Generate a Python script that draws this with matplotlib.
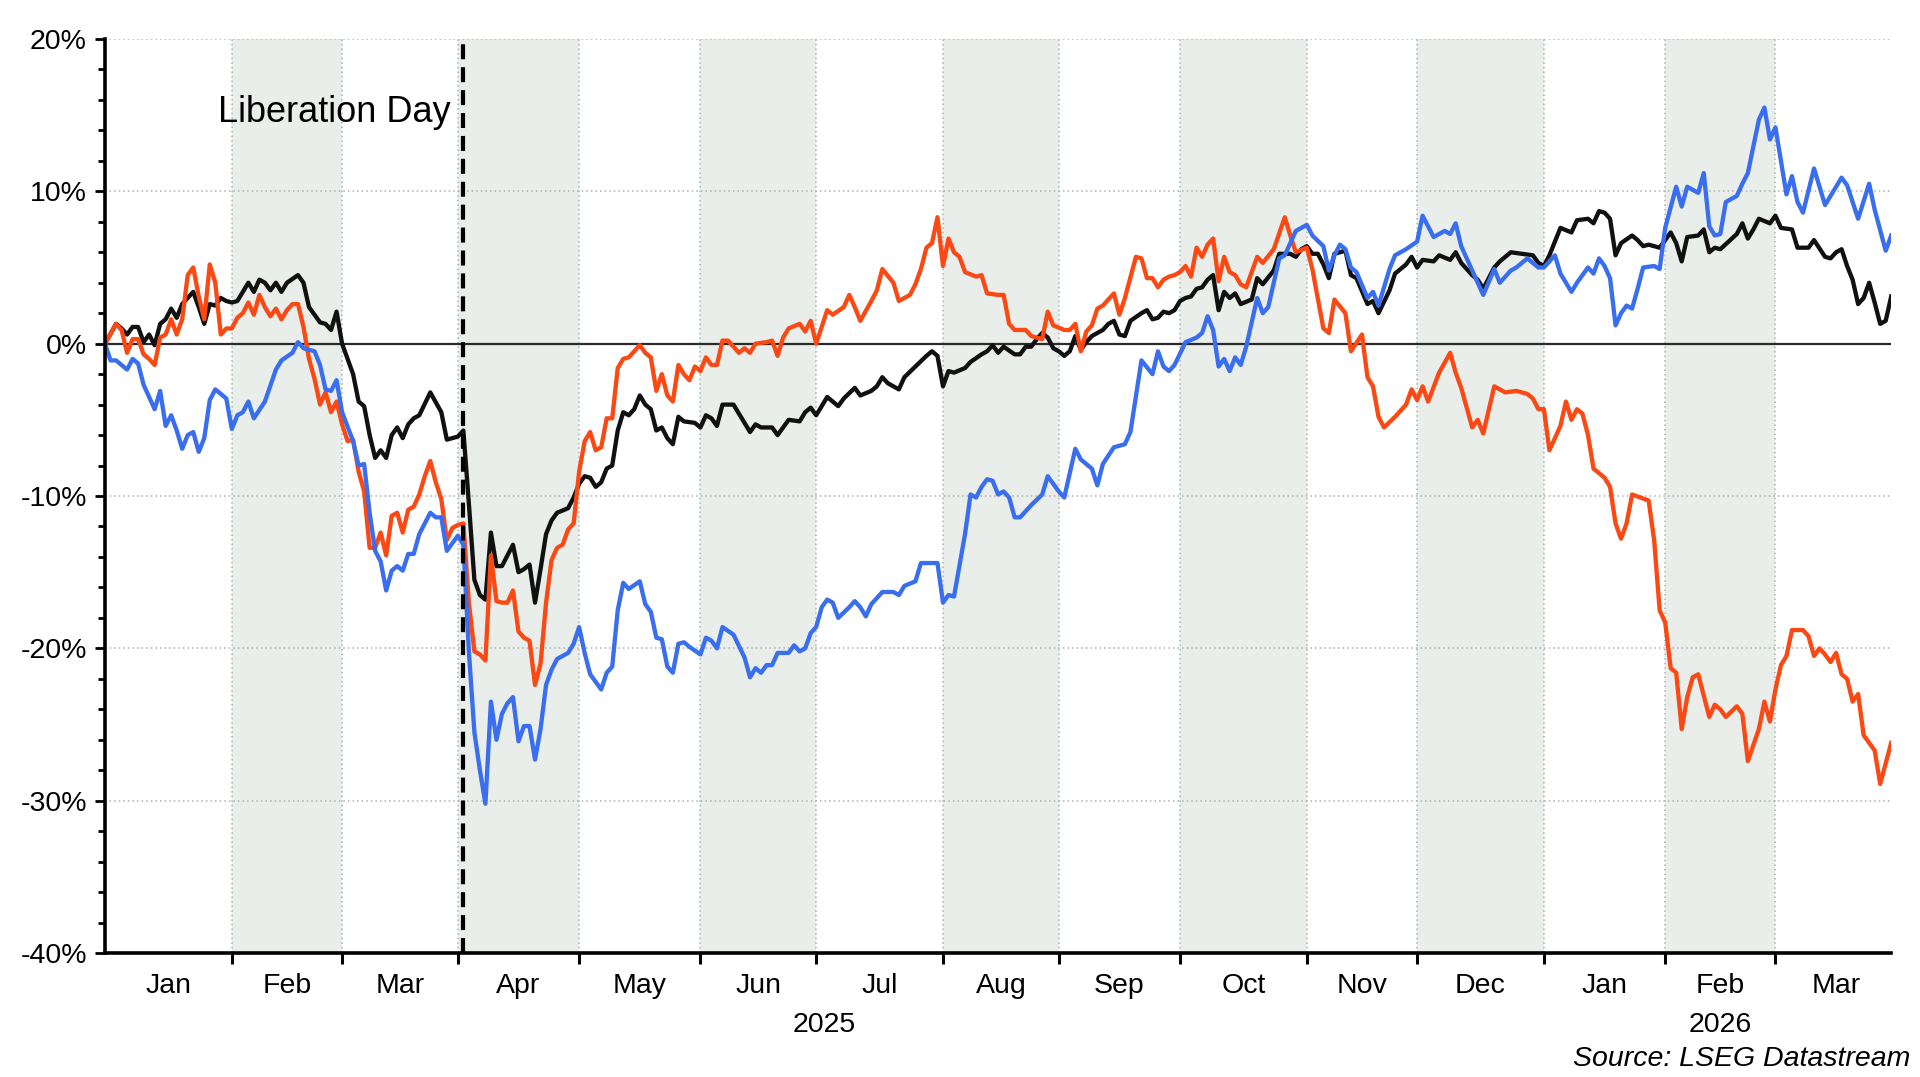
"""
Liberation Day chart: cumulative % change of three series, Jan 2025 - Mar 2026.
Weekday-based time axis (Datastream style), alternate months shaded.
"""

import numpy as np
import matplotlib
matplotlib.use("Agg")
import matplotlib.pyplot as plt
from matplotlib.ticker import FixedLocator, FuncFormatter, MultipleLocator

plt.rcParams["font.family"] = ["Liberation Sans", "DejaVu Sans"]

START = "2025-01-01"
AXIS_END = "2026-03-31"
LIB_DAY = "2025-04-02"
LIB_LABEL = "Liberation Day"
SOURCE = "Source: LSEG Datastream"

MONTH_STARTS = ["2025-01-01", "2025-02-01", "2025-03-01", "2025-04-01",
                "2025-05-01", "2025-06-01", "2025-07-01", "2025-08-01",
                "2025-09-01", "2025-10-01", "2025-11-01", "2025-12-01",
                "2026-01-01", "2026-02-01", "2026-03-01", "2026-04-01"]
MONTH_LABELS = ["Jan", "Feb", "Mar", "Apr", "May", "Jun", "Jul", "Aug",
                "Sep", "Oct", "Nov", "Dec", "Jan", "Feb", "Mar"]
YEAR_LABELS = ["2025", "2026"]
YEAR_SPANS = [("2025-01-01", "2026-01-01"), ("2026-01-01", "2026-04-01")]
Y_TICKS = [-40, -30, -20, -10, 0, 10, 20]

# (date, % change since start)
BLACK = [
    ("2025-01-01", 0.0), ("2025-01-03", 1.3), ("2025-01-06", 1.0), ("2025-01-07", 0.6),
    ("2025-01-08", 1.1), ("2025-01-09", 1.1), ("2025-01-10", 0.1), ("2025-01-13", 0.6),
    ("2025-01-14", -0.1), ("2025-01-15", 1.3), ("2025-01-16", 1.6), ("2025-01-17", 2.3),
    ("2025-01-20", 1.7), ("2025-01-21", 2.6), ("2025-01-23", 3.4), ("2025-01-24", 2.4),
    ("2025-01-27", 1.3), ("2025-01-28", 2.6), ("2025-01-29", 2.5), ("2025-01-30", 3.0),
    ("2025-01-31", 2.8), ("2025-02-03", 2.7), ("2025-02-04", 2.8), ("2025-02-06", 4.0),
    ("2025-02-07", 3.4), ("2025-02-10", 4.2), ("2025-02-11", 4.0), ("2025-02-12", 3.5),
    ("2025-02-13", 4.0), ("2025-02-14", 3.4), ("2025-02-17", 4.0), ("2025-02-19", 4.5),
    ("2025-02-20", 4.0), ("2025-02-21", 2.4), ("2025-02-25", 1.4), ("2025-02-26", 1.3),
    ("2025-02-27", 0.9), ("2025-02-28", 2.1), ("2025-03-03", 0.0), ("2025-03-05", -2.0),
    ("2025-03-06", -3.8), ("2025-03-07", -4.1), ("2025-03-10", -6.0), ("2025-03-11", -7.5),
    ("2025-03-12", -7.0), ("2025-03-13", -7.5), ("2025-03-14", -6.0), ("2025-03-17", -5.5),
    ("2025-03-18", -6.2), ("2025-03-19", -5.3), ("2025-03-20", -4.9), ("2025-03-21", -4.7),
    ("2025-03-25", -3.2), ("2025-03-27", -4.5), ("2025-03-28", -6.3), ("2025-04-01", -6.1),
    ("2025-04-02", -5.7), ("2025-04-03", -10.5), ("2025-04-04", -15.5), ("2025-04-07", -16.5),
    ("2025-04-08", -16.8), ("2025-04-09", -12.4), ("2025-04-10", -14.6), ("2025-04-11", -14.6),
    ("2025-04-14", -13.9), ("2025-04-15", -13.2), ("2025-04-16", -15.0), ("2025-04-17", -14.8),
    ("2025-04-18", -14.5), ("2025-04-21", -17.0), ("2025-04-22", -14.8), ("2025-04-23", -12.5),
    ("2025-04-24", -11.6), ("2025-04-25", -11.1), ("2025-04-29", -10.8), ("2025-04-30", -10.1),
    ("2025-05-01", -9.2), ("2025-05-02", -8.7), ("2025-05-05", -8.8), ("2025-05-06", -9.4),
    ("2025-05-07", -9.1), ("2025-05-08", -8.2), ("2025-05-09", -8.0), ("2025-05-12", -5.7),
    ("2025-05-13", -4.5), ("2025-05-14", -4.7), ("2025-05-15", -4.3), ("2025-05-16", -3.4),
    ("2025-05-19", -4.0), ("2025-05-20", -4.3), ("2025-05-21", -5.7), ("2025-05-22", -5.5),
    ("2025-05-23", -6.2), ("2025-05-26", -6.6), ("2025-05-27", -4.8), ("2025-05-28", -5.1),
    ("2025-05-30", -5.2), ("2025-06-02", -5.5), ("2025-06-03", -4.7), ("2025-06-04", -4.9),
    ("2025-06-05", -5.4), ("2025-06-06", -4.0), ("2025-06-10", -4.0), ("2025-06-11", -4.6),
    ("2025-06-13", -5.8), ("2025-06-16", -5.3), ("2025-06-17", -5.5), ("2025-06-19", -5.5),
    ("2025-06-20", -6.0), ("2025-06-24", -5.0), ("2025-06-26", -5.1), ("2025-06-27", -4.5),
    ("2025-06-30", -4.2), ("2025-07-01", -4.7), ("2025-07-02", -4.1), ("2025-07-03", -3.5),
    ("2025-07-04", -3.8), ("2025-07-07", -4.1), ("2025-07-08", -3.6), ("2025-07-10", -2.9),
    ("2025-07-11", -3.4), ("2025-07-15", -3.1), ("2025-07-16", -2.8), ("2025-07-17", -2.2),
    ("2025-07-18", -2.6), ("2025-07-22", -3.0), ("2025-07-23", -2.2), ("2025-07-25", -1.5),
    ("2025-07-29", -0.8), ("2025-07-30", -0.5), ("2025-07-31", -0.8), ("2025-08-01", -2.8),
    ("2025-08-04", -1.8), ("2025-08-05", -1.9), ("2025-08-07", -1.6), ("2025-08-08", -1.2),
    ("2025-08-12", -0.7), ("2025-08-13", -0.5), ("2025-08-14", -0.1), ("2025-08-15", -0.6),
    ("2025-08-18", -0.2), ("2025-08-20", -0.7), ("2025-08-21", -0.7), ("2025-08-22", -0.2),
    ("2025-08-25", -0.2), ("2025-08-26", 0.3), ("2025-08-27", 0.7), ("2025-08-28", 0.4),
    ("2025-08-29", -0.3), ("2025-09-01", -0.5), ("2025-09-02", -0.8), ("2025-09-03", -0.5),
    ("2025-09-04", 0.5), ("2025-09-05", -0.4), ("2025-09-08", 0.1), ("2025-09-09", 0.5),
    ("2025-09-11", 0.9), ("2025-09-12", 1.3), ("2025-09-15", 1.5), ("2025-09-16", 0.6),
    ("2025-09-17", 0.5), ("2025-09-18", 1.5), ("2025-09-22", 2.0), ("2025-09-23", 2.2),
    ("2025-09-24", 1.6), ("2025-09-25", 1.7), ("2025-09-26", 2.1), ("2025-09-29", 2.0),
    ("2025-09-30", 2.2), ("2025-10-01", 2.8), ("2025-10-02", 3.0), ("2025-10-03", 3.1),
    ("2025-10-06", 3.6), ("2025-10-07", 3.7), ("2025-10-08", 4.2), ("2025-10-09", 4.5),
    ("2025-10-10", 2.2), ("2025-10-13", 3.4), ("2025-10-14", 3.0), ("2025-10-15", 3.3),
    ("2025-10-16", 2.6), ("2025-10-20", 2.9), ("2025-10-21", 4.3), ("2025-10-22", 3.9),
    ("2025-10-24", 4.8), ("2025-10-27", 5.9), ("2025-10-29", 5.9), ("2025-10-30", 5.7),
    ("2025-10-31", 6.2), ("2025-11-03", 6.4), ("2025-11-04", 5.9), ("2025-11-05", 5.9),
    ("2025-11-06", 5.2), ("2025-11-07", 4.3), ("2025-11-10", 5.9), ("2025-11-12", 6.1),
    ("2025-11-13", 4.5), ("2025-11-14", 4.3), ("2025-11-18", 2.6), ("2025-11-19", 2.8),
    ("2025-11-20", 2.0), ("2025-11-24", 3.5), ("2025-11-25", 4.6), ("2025-11-27", 5.2),
    ("2025-11-28", 5.7), ("2025-12-01", 5.0), ("2025-12-02", 5.5), ("2025-12-04", 5.4),
    ("2025-12-05", 5.8), ("2025-12-09", 5.5), ("2025-12-10", 6.0), ("2025-12-11", 5.3),
    ("2025-12-15", 4.5), ("2025-12-16", 4.2), ("2025-12-17", 3.6), ("2025-12-19", 5.0),
    ("2025-12-22", 5.4), ("2025-12-24", 6.0), ("2025-12-26", 5.9), ("2025-12-30", 5.8),
    ("2025-12-31", 5.3), ("2026-01-01", 5.1), ("2026-01-02", 5.8), ("2026-01-06", 7.6),
    ("2026-01-08", 7.3), ("2026-01-09", 8.1), ("2026-01-13", 8.2), ("2026-01-14", 7.9),
    ("2026-01-15", 8.7), ("2026-01-16", 8.6), ("2026-01-19", 8.2), ("2026-01-20", 5.8),
    ("2026-01-21", 6.6), ("2026-01-23", 7.1), ("2026-01-26", 6.8), ("2026-01-27", 6.4),
    ("2026-01-28", 6.5), ("2026-01-30", 6.3), ("2026-02-03", 7.3), ("2026-02-04", 6.6),
    ("2026-02-05", 5.4), ("2026-02-06", 7.0), ("2026-02-10", 7.1), ("2026-02-11", 7.5),
    ("2026-02-12", 6.0), ("2026-02-13", 6.3), ("2026-02-16", 6.2), ("2026-02-19", 7.2),
    ("2026-02-20", 7.9), ("2026-02-23", 6.9), ("2026-02-24", 7.5), ("2026-02-25", 8.2),
    ("2026-02-27", 7.9), ("2026-03-02", 8.4), ("2026-03-03", 7.6), ("2026-03-05", 7.5),
    ("2026-03-06", 6.3), ("2026-03-09", 6.3), ("2026-03-10", 6.3), ("2026-03-11", 6.8),
    ("2026-03-13", 5.7), ("2026-03-16", 5.6), ("2026-03-17", 6.0), ("2026-03-18", 6.2),
    ("2026-03-19", 5.1), ("2026-03-20", 4.2), ("2026-03-23", 2.6), ("2026-03-24", 3.0),
    ("2026-03-25", 4.0), ("2026-03-26", 2.7), ("2026-03-27", 1.3), ("2026-03-30", 1.5),
    ("2026-03-31", 3.1),
]

ORANGE = [
    ("2025-01-01", 0.0), ("2025-01-03", 1.3), ("2025-01-06", 0.9), ("2025-01-07", -0.6),
    ("2025-01-08", 0.3), ("2025-01-09", 0.3), ("2025-01-10", -0.7), ("2025-01-13", -1.0),
    ("2025-01-14", -1.4), ("2025-01-15", 0.4), ("2025-01-16", 0.6), ("2025-01-17", 1.6),
    ("2025-01-20", 0.6), ("2025-01-21", 1.6), ("2025-01-22", 4.5), ("2025-01-23", 5.0),
    ("2025-01-24", 3.1), ("2025-01-27", 1.6), ("2025-01-28", 5.2), ("2025-01-29", 4.0),
    ("2025-01-30", 0.6), ("2025-01-31", 1.0), ("2025-02-03", 1.0), ("2025-02-04", 1.7),
    ("2025-02-05", 2.0), ("2025-02-06", 2.7), ("2025-02-07", 1.9), ("2025-02-10", 3.2),
    ("2025-02-11", 2.4), ("2025-02-12", 1.8), ("2025-02-13", 2.3), ("2025-02-14", 1.6),
    ("2025-02-17", 2.2), ("2025-02-18", 2.6), ("2025-02-19", 2.6), ("2025-02-20", 1.1),
    ("2025-02-21", -1.0), ("2025-02-24", -2.3), ("2025-02-25", -4.0), ("2025-02-26", -3.2),
    ("2025-02-27", -4.5), ("2025-02-28", -3.8), ("2025-03-03", -5.3), ("2025-03-04", -6.4),
    ("2025-03-05", -6.3), ("2025-03-06", -8.4), ("2025-03-07", -9.7), ("2025-03-10", -13.4),
    ("2025-03-11", -13.4), ("2025-03-12", -12.4), ("2025-03-13", -13.9), ("2025-03-14", -11.3),
    ("2025-03-17", -11.1), ("2025-03-18", -12.4), ("2025-03-19", -10.9), ("2025-03-20", -10.7),
    ("2025-03-21", -9.9), ("2025-03-24", -8.7), ("2025-03-25", -7.7), ("2025-03-26", -9.1),
    ("2025-03-27", -10.2), ("2025-03-28", -12.9), ("2025-03-31", -12.1), ("2025-04-01", -11.9),
    ("2025-04-02", -11.8), ("2025-04-03", -17.0), ("2025-04-04", -20.2), ("2025-04-07", -20.4),
    ("2025-04-08", -20.8), ("2025-04-09", -13.9), ("2025-04-10", -16.9), ("2025-04-11", -17.0),
    ("2025-04-14", -17.0), ("2025-04-15", -16.2), ("2025-04-16", -18.9), ("2025-04-17", -19.3),
    ("2025-04-18", -19.5), ("2025-04-21", -22.4), ("2025-04-22", -21.0), ("2025-04-23", -17.0),
    ("2025-04-24", -14.2), ("2025-04-25", -13.4), ("2025-04-28", -13.2), ("2025-04-29", -12.2),
    ("2025-04-30", -11.8), ("2025-05-01", -8.4), ("2025-05-02", -6.4), ("2025-05-05", -5.8),
    ("2025-05-06", -7.0), ("2025-05-07", -6.8), ("2025-05-08", -4.9), ("2025-05-09", -4.9),
    ("2025-05-12", -1.6), ("2025-05-13", -1.0), ("2025-05-14", -0.9), ("2025-05-16", -0.1),
    ("2025-05-19", -0.6), ("2025-05-20", -0.9), ("2025-05-21", -3.1), ("2025-05-22", -2.0),
    ("2025-05-23", -3.4), ("2025-05-26", -3.8), ("2025-05-27", -1.4), ("2025-05-28", -2.0),
    ("2025-05-29", -2.4), ("2025-05-30", -1.5), ("2025-06-02", -1.8), ("2025-06-03", -0.9),
    ("2025-06-04", -1.4), ("2025-06-05", -1.4), ("2025-06-06", 0.2), ("2025-06-09", 0.2),
    ("2025-06-11", -0.6), ("2025-06-12", -0.3), ("2025-06-13", -0.6), ("2025-06-16", 0.0),
    ("2025-06-18", 0.1), ("2025-06-19", 0.2), ("2025-06-20", -0.8), ("2025-06-23", 0.4),
    ("2025-06-24", 1.0), ("2025-06-26", 1.3), ("2025-06-27", 0.8), ("2025-06-30", 1.5),
    ("2025-07-01", 0.0), ("2025-07-03", 2.2), ("2025-07-04", 1.9), ("2025-07-08", 2.4),
    ("2025-07-09", 3.2), ("2025-07-10", 2.4), ("2025-07-11", 1.5), ("2025-07-15", 2.8),
    ("2025-07-16", 3.5), ("2025-07-17", 4.9), ("2025-07-21", 4.0), ("2025-07-22", 2.8),
    ("2025-07-24", 3.2), ("2025-07-25", 3.9), ("2025-07-28", 4.9), ("2025-07-29", 6.3),
    ("2025-07-30", 6.6), ("2025-07-31", 8.3), ("2025-08-01", 5.1), ("2025-08-04", 6.9),
    ("2025-08-05", 6.0), ("2025-08-06", 5.7), ("2025-08-07", 4.7), ("2025-08-11", 4.4),
    ("2025-08-12", 4.5), ("2025-08-13", 3.3), ("2025-08-15", 3.2), ("2025-08-18", 3.2),
    ("2025-08-19", 1.3), ("2025-08-20", 0.9), ("2025-08-22", 0.9), ("2025-08-25", 0.5),
    ("2025-08-27", 0.3), ("2025-08-28", 2.1), ("2025-08-29", 1.2), ("2025-09-02", 0.9),
    ("2025-09-03", 0.9), ("2025-09-04", 1.3), ("2025-09-05", -0.5), ("2025-09-08", 0.8),
    ("2025-09-09", 1.2), ("2025-09-10", 2.3), ("2025-09-11", 2.5), ("2025-09-15", 3.3),
    ("2025-09-16", 1.9), ("2025-09-17", 3.0), ("2025-09-19", 5.7), ("2025-09-22", 5.6),
    ("2025-09-23", 4.3), ("2025-09-24", 4.3), ("2025-09-25", 3.7), ("2025-09-26", 4.2),
    ("2025-09-29", 4.4), ("2025-09-30", 4.5), ("2025-10-01", 4.7), ("2025-10-02", 5.1),
    ("2025-10-03", 4.4), ("2025-10-06", 6.3), ("2025-10-07", 5.7), ("2025-10-08", 6.5),
    ("2025-10-09", 6.9), ("2025-10-10", 4.1), ("2025-10-13", 5.7), ("2025-10-14", 4.7),
    ("2025-10-15", 4.5), ("2025-10-16", 3.9), ("2025-10-17", 3.7), ("2025-10-21", 5.7),
    ("2025-10-22", 5.3), ("2025-10-24", 6.2), ("2025-10-28", 8.3), ("2025-10-29", 7.1),
    ("2025-10-30", 6.0), ("2025-11-03", 6.3), ("2025-11-04", 4.9), ("2025-11-06", 1.0),
    ("2025-11-07", 0.7), ("2025-11-10", 2.9), ("2025-11-12", 2.0), ("2025-11-13", -0.5),
    ("2025-11-17", 0.6), ("2025-11-18", -2.2), ("2025-11-19", -2.8), ("2025-11-20", -4.8),
    ("2025-11-21", -5.5), ("2025-11-25", -4.8), ("2025-11-26", -4.4), ("2025-11-27", -4.0),
    ("2025-11-28", -3.0), ("2025-12-01", -3.7), ("2025-12-02", -2.8), ("2025-12-03", -3.8),
    ("2025-12-05", -1.9), ("2025-12-09", -0.6), ("2025-12-10", -1.9), ("2025-12-11", -2.9),
    ("2025-12-15", -5.5), ("2025-12-16", -5.0), ("2025-12-17", -5.9), ("2025-12-19", -2.8),
    ("2025-12-23", -3.2), ("2025-12-25", -3.1), ("2025-12-29", -3.3), ("2025-12-30", -3.6),
    ("2025-12-31", -4.3), ("2026-01-01", -4.3), ("2026-01-02", -7.0), ("2026-01-06", -5.4),
    ("2026-01-07", -3.8), ("2026-01-08", -5.0), ("2026-01-09", -4.3), ("2026-01-12", -4.6),
    ("2026-01-13", -6.0), ("2026-01-14", -8.2), ("2026-01-16", -8.8), ("2026-01-19", -9.4),
    ("2026-01-20", -11.8), ("2026-01-21", -12.8), ("2026-01-22", -11.8), ("2026-01-23", -9.9),
    ("2026-01-28", -10.3), ("2026-01-29", -12.9), ("2026-01-30", -17.5), ("2026-02-02", -18.3),
    ("2026-02-03", -21.3), ("2026-02-04", -21.6), ("2026-02-05", -25.3), ("2026-02-06", -23.2),
    ("2026-02-09", -21.9), ("2026-02-10", -21.7), ("2026-02-12", -24.5), ("2026-02-13", -23.7),
    ("2026-02-16", -24.0), ("2026-02-17", -24.5), ("2026-02-19", -23.8), ("2026-02-20", -24.3),
    ("2026-02-23", -27.4), ("2026-02-25", -25.3), ("2026-02-26", -23.5), ("2026-02-27", -24.8),
    ("2026-03-02", -22.7), ("2026-03-03", -21.1), ("2026-03-04", -20.5), ("2026-03-05", -18.8),
    ("2026-03-09", -18.8), ("2026-03-10", -19.2), ("2026-03-11", -20.5), ("2026-03-12", -20.0),
    ("2026-03-13", -20.4), ("2026-03-16", -20.9), ("2026-03-17", -20.3), ("2026-03-18", -21.7),
    ("2026-03-19", -22.0), ("2026-03-20", -23.5), ("2026-03-23", -23.0), ("2026-03-24", -25.7),
    ("2026-03-26", -26.7), ("2026-03-27", -28.9), ("2026-03-31", -26.2),
]

BLUE = [
    ("2025-01-01", 0.0), ("2025-01-02", -1.1), ("2025-01-03", -1.1), ("2025-01-07", -1.7),
    ("2025-01-08", -1.0), ("2025-01-09", -1.3), ("2025-01-10", -2.7), ("2025-01-14", -4.3),
    ("2025-01-15", -3.1), ("2025-01-16", -5.4), ("2025-01-17", -4.7), ("2025-01-20", -5.7),
    ("2025-01-21", -6.9), ("2025-01-22", -6.0), ("2025-01-23", -5.8), ("2025-01-24", -7.1),
    ("2025-01-27", -6.2), ("2025-01-28", -3.7), ("2025-01-29", -3.0), ("2025-01-31", -3.6),
    ("2025-02-03", -5.6), ("2025-02-04", -4.7), ("2025-02-05", -4.5), ("2025-02-06", -3.8),
    ("2025-02-07", -4.9), ("2025-02-11", -3.8), ("2025-02-13", -1.7), ("2025-02-14", -1.1),
    ("2025-02-18", -0.6), ("2025-02-19", 0.1), ("2025-02-20", -0.3), ("2025-02-24", -0.5),
    ("2025-02-25", -1.4), ("2025-02-26", -3.0), ("2025-02-27", -3.1), ("2025-02-28", -2.4),
    ("2025-03-03", -4.5), ("2025-03-05", -6.4), ("2025-03-06", -8.0), ("2025-03-07", -7.9),
    ("2025-03-10", -11.1), ("2025-03-11", -13.6), ("2025-03-12", -14.3), ("2025-03-13", -16.2),
    ("2025-03-14", -14.9), ("2025-03-17", -14.6), ("2025-03-18", -14.9), ("2025-03-19", -13.8),
    ("2025-03-20", -13.8), ("2025-03-21", -12.5), ("2025-03-25", -11.1), ("2025-03-26", -11.4),
    ("2025-03-27", -11.4), ("2025-03-28", -13.6), ("2025-03-31", -13.1), ("2025-04-01", -12.6),
    ("2025-04-02", -13.2), ("2025-04-03", -20.2), ("2025-04-04", -25.5), ("2025-04-07", -28.0),
    ("2025-04-08", -30.2), ("2025-04-09", -23.5), ("2025-04-10", -26.0), ("2025-04-11", -24.3),
    ("2025-04-14", -23.6), ("2025-04-15", -23.2), ("2025-04-16", -26.1), ("2025-04-17", -25.1),
    ("2025-04-18", -25.1), ("2025-04-21", -27.3), ("2025-04-22", -25.3), ("2025-04-23", -22.4),
    ("2025-04-24", -21.4), ("2025-04-25", -20.7), ("2025-04-29", -20.3), ("2025-04-30", -19.7),
    ("2025-05-01", -18.6), ("2025-05-02", -20.3), ("2025-05-05", -21.7), ("2025-05-06", -22.2),
    ("2025-05-07", -22.7), ("2025-05-08", -21.6), ("2025-05-09", -21.2), ("2025-05-12", -17.5),
    ("2025-05-13", -15.7), ("2025-05-14", -16.1), ("2025-05-16", -15.6), ("2025-05-19", -17.1),
    ("2025-05-20", -17.6), ("2025-05-21", -19.3), ("2025-05-22", -19.4), ("2025-05-23", -21.2),
    ("2025-05-26", -21.6), ("2025-05-27", -19.7), ("2025-05-28", -19.6), ("2025-05-29", -19.9),
    ("2025-06-02", -20.4), ("2025-06-03", -19.3), ("2025-06-04", -19.5), ("2025-06-05", -20.0),
    ("2025-06-06", -18.6), ("2025-06-10", -19.1), ("2025-06-12", -20.6), ("2025-06-13", -21.9),
    ("2025-06-16", -21.3), ("2025-06-17", -21.6), ("2025-06-18", -21.1), ("2025-06-19", -21.1),
    ("2025-06-20", -20.3), ("2025-06-24", -20.3), ("2025-06-25", -19.8), ("2025-06-26", -20.2),
    ("2025-06-27", -20.0), ("2025-06-30", -19.0), ("2025-07-01", -18.6), ("2025-07-02", -17.3),
    ("2025-07-03", -16.8), ("2025-07-04", -17.0), ("2025-07-07", -18.0), ("2025-07-09", -17.3),
    ("2025-07-10", -16.9), ("2025-07-11", -17.3), ("2025-07-14", -17.9), ("2025-07-15", -17.1),
    ("2025-07-17", -16.3), ("2025-07-21", -16.3), ("2025-07-22", -16.5), ("2025-07-23", -15.9),
    ("2025-07-25", -15.6), ("2025-07-28", -14.4), ("2025-07-30", -14.4), ("2025-07-31", -14.4),
    ("2025-08-01", -17.0), ("2025-08-04", -16.5), ("2025-08-05", -16.6), ("2025-08-07", -12.5),
    ("2025-08-08", -9.9), ("2025-08-11", -10.1), ("2025-08-12", -9.4), ("2025-08-13", -8.9),
    ("2025-08-14", -9.0), ("2025-08-15", -9.9), ("2025-08-18", -9.7), ("2025-08-19", -10.1),
    ("2025-08-20", -11.4), ("2025-08-21", -11.4), ("2025-08-25", -10.6), ("2025-08-27", -9.9),
    ("2025-08-28", -8.7), ("2025-09-01", -9.7), ("2025-09-02", -10.1), ("2025-09-04", -6.9),
    ("2025-09-05", -7.6), ("2025-09-09", -8.2), ("2025-09-10", -9.3), ("2025-09-11", -7.9),
    ("2025-09-15", -6.8), ("2025-09-17", -6.6), ("2025-09-18", -5.8), ("2025-09-22", -1.1),
    ("2025-09-24", -2.0), ("2025-09-25", -0.5), ("2025-09-26", -1.5), ("2025-09-29", -1.8),
    ("2025-09-30", -1.4), ("2025-10-02", 0.1), ("2025-10-06", 0.4), ("2025-10-07", 0.7),
    ("2025-10-08", 1.8), ("2025-10-09", 0.9), ("2025-10-10", -1.5), ("2025-10-13", -1.0),
    ("2025-10-14", -1.8), ("2025-10-15", -0.9), ("2025-10-16", -1.4), ("2025-10-17", -0.2),
    ("2025-10-21", 3.0), ("2025-10-22", 2.0), ("2025-10-23", 2.4), ("2025-10-27", 5.6),
    ("2025-10-28", 5.8), ("2025-10-30", 7.4), ("2025-11-03", 7.8), ("2025-11-04", 7.1),
    ("2025-11-06", 6.4), ("2025-11-07", 4.8), ("2025-11-10", 5.8), ("2025-11-11", 6.5),
    ("2025-11-12", 6.2), ("2025-11-13", 5.0), ("2025-11-14", 4.7), ("2025-11-18", 3.0),
    ("2025-11-19", 3.4), ("2025-11-20", 2.5), ("2025-11-24", 4.9), ("2025-11-25", 5.8),
    ("2025-11-27", 6.2), ("2025-12-01", 6.7), ("2025-12-02", 8.4), ("2025-12-04", 7.0),
    ("2025-12-08", 7.4), ("2025-12-09", 7.2), ("2025-12-10", 7.9), ("2025-12-11", 6.4),
    ("2025-12-15", 4.8), ("2025-12-16", 4.0), ("2025-12-17", 3.2), ("2025-12-19", 4.9),
    ("2025-12-22", 4.0), ("2025-12-24", 4.8), ("2025-12-25", 5.0), ("2025-12-29", 5.6),
    ("2025-12-31", 5.0), ("2026-01-01", 5.0), ("2026-01-05", 5.8), ("2026-01-06", 4.6),
    ("2026-01-08", 3.4), ("2026-01-09", 4.0), ("2026-01-13", 5.0), ("2026-01-14", 4.6),
    ("2026-01-15", 5.6), ("2026-01-16", 5.1), ("2026-01-19", 4.3), ("2026-01-20", 1.2),
    ("2026-01-21", 2.0), ("2026-01-22", 2.5), ("2026-01-23", 2.3), ("2026-01-26", 3.6),
    ("2026-01-27", 5.0), ("2026-01-29", 5.1), ("2026-01-30", 4.9), ("2026-02-02", 7.6),
    ("2026-02-04", 10.3), ("2026-02-05", 9.0), ("2026-02-06", 10.3), ("2026-02-10", 9.9),
    ("2026-02-11", 11.2), ("2026-02-12", 7.7), ("2026-02-13", 7.1), ("2026-02-16", 7.2),
    ("2026-02-17", 9.3), ("2026-02-19", 9.7), ("2026-02-20", 10.5), ("2026-02-23", 11.2),
    ("2026-02-25", 14.7), ("2026-02-26", 15.5), ("2026-02-27", 13.4), ("2026-03-02", 14.2),
    ("2026-03-04", 9.8), ("2026-03-05", 11.0), ("2026-03-06", 9.3), ("2026-03-09", 8.6),
    ("2026-03-11", 11.5), ("2026-03-13", 9.1), ("2026-03-18", 10.9), ("2026-03-19", 10.4),
    ("2026-03-23", 8.2), ("2026-03-25", 10.5), ("2026-03-26", 8.8), ("2026-03-30", 6.1),
    ("2026-03-31", 7.1),
]

SERIES = [(BLACK, "#111111", 3), (ORANGE, "#fc4813", 4), (BLUE, "#3a6ef0", 5)]

SHADE = "#e9eeeb"
GRID = "#aab3b1"
FS = 20.5


def bday(d):
    """Weekday count since START: the chart's time axis skips weekends."""
    return np.busday_count(START, np.asarray(d, dtype="datetime64[D]"))


fig = plt.figure(figsize=(19.2, 10.77), dpi=100)
ax = fig.add_axes([0.0547, 0.1151, 0.9303, 0.8487])

edges = bday(MONTH_STARTS)
x_end = bday(AXIS_END)

# alternate month shading
for i in range(1, len(MONTH_LABELS), 2):
    ax.axvspan(edges[i], edges[i + 1], color=SHADE, lw=0, zorder=0)

for series, color, z in SERIES:
    d, v = zip(*series)
    ax.plot(bday(list(d)), v, color=color, lw=3.1, zorder=z,
            solid_joinstyle="round")

ax.axhline(0, color="#2b2b2b", lw=1.6, zorder=2)
lib_x = bday(LIB_DAY)
ax.axvline(lib_x, color="black", lw=3.0, ls=(0, (3.6, 1.9)), zorder=6)
ax.annotate(LIB_LABEL, xy=(lib_x, 15.2), xytext=(-9, 0),
            textcoords="offset points", ha="right", va="center",
            fontsize=26, zorder=7)

ax.set_xlim(0, x_end)
ax.set_ylim(Y_TICKS[0], Y_TICKS[-1])

# y axis
ax.yaxis.set_major_locator(FixedLocator(Y_TICKS))
ax.yaxis.set_minor_locator(MultipleLocator(2))
ax.yaxis.set_major_formatter(FuncFormatter(lambda v, _: f"{v:.0f}%"))
ax.tick_params(axis="y", which="major", length=7, width=2, pad=6,
               labelsize=FS)
ax.tick_params(axis="y", which="minor", length=5, width=2)

# x axis: ticks at month boundaries, labels centred in each month
ax.xaxis.set_major_locator(FixedLocator(edges[1:-1]))
ax.xaxis.set_major_formatter(FuncFormatter(lambda v, _: ""))
ax.tick_params(axis="x", which="major", length=8, width=2.2)
xt = ax.get_xaxis_transform()
for i, lab in enumerate(MONTH_LABELS):
    ax.text((edges[i] + edges[i + 1]) / 2, -0.036, lab, transform=xt,
            ha="center", va="center", fontsize=FS)
for lab, (a, b) in zip(YEAR_LABELS, YEAR_SPANS):
    ax.text((bday(a) + bday(b)) / 2, -0.079, lab, transform=xt,
            ha="center", va="center", fontsize=FS)

ax.grid(True, which="major", axis="both", color=GRID, ls=(0, (1, 2)),
        lw=1.1, zorder=1)
ax.set_axisbelow(True)

for side in ("top", "right"):
    ax.spines[side].set_visible(False)
for side in ("left", "bottom"):
    ax.spines[side].set_linewidth(2.6)
    ax.spines[side].set_zorder(8)

fig.text(0.995, 0.0167, SOURCE, ha="right", va="center",
         style="italic", fontsize=FS)

fig.savefig("out.png", dpi=100)
plt.close(fig)
